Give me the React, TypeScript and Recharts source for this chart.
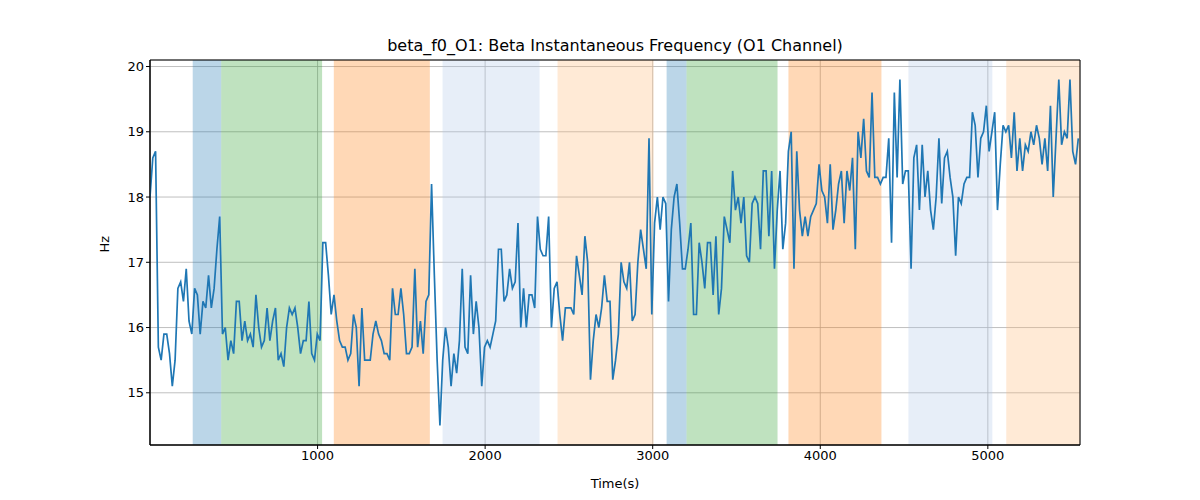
import { LineChart, Line, XAxis, YAxis, CartesianGrid, ReferenceArea } from 'recharts';

const X_MIN = 0;
const X_MAX = 5550;
const Y_MIN = 14.2;
const Y_MAX = 20.1;
const LAST_T = 5540;

const xTicks = [1000, 2000, 3000, 4000, 5000];
const yTicks = [15, 16, 17, 18, 19, 20];

// [start, end, color]
const bands: [number, number, string][] = [
  [255, 425, '#1f77b4'],
  [425, 1027, '#2ca02c'],
  [1097, 1670, '#ff7f0e'],
  [1746, 2325, '#aec7e8'],
  [2432, 3005, '#ffbb78'],
  [3083, 3202, '#1f77b4'],
  [3202, 3745, '#2ca02c'],
  [3810, 4365, '#ff7f0e'],
  [4526, 5027, '#aec7e8'],
  [5110, 5550, '#ffbb78'],
];

const values = [
  18.0, 18.6, 18.7, 15.7, 15.5, 15.9, 15.9, 15.6, 15.1, 15.5, 16.6, 16.7, 16.4, 16.9, 16.1, 15.9,
  16.6, 16.5, 15.9, 16.4, 16.3, 16.8, 16.3, 16.6, 17.2, 17.7, 15.9, 16.0, 15.5, 15.8, 15.6, 16.4,
  16.4, 15.8, 16.1, 15.8, 15.9, 15.7, 16.5, 16.0, 15.7, 15.8, 16.3, 15.8, 16.1, 16.3, 15.5, 15.6,
  15.4, 16.0, 16.3, 16.2, 16.3, 16.0, 15.6, 15.8, 15.8, 16.4, 15.6, 15.5, 15.9, 15.8, 17.3, 17.3,
  16.8, 16.2, 16.5, 16.1, 15.8, 15.7, 15.7, 15.5, 15.6, 16.2, 16.0, 15.1, 16.3, 15.5, 15.5, 15.5,
  15.9, 16.1, 15.9, 15.8, 15.6, 15.6, 15.5, 16.6, 16.2, 16.2, 16.6, 16.2, 15.6, 15.6, 15.7, 16.9,
  15.7, 16.1, 15.6, 16.4, 16.5, 18.2, 16.8, 15.5, 14.5, 15.5, 16.0, 15.7, 15.1, 15.6, 15.3, 15.8,
  16.9, 15.7, 15.6, 16.8, 15.9, 16.4, 16.0, 15.1, 15.7, 15.8, 15.7, 15.9, 16.1, 17.2, 17.2, 16.4,
  16.5, 16.9, 16.6, 16.7, 17.6, 16.0, 16.6, 16.0, 16.5, 16.5, 16.3, 17.7, 17.2, 17.1, 17.1, 17.7,
  16.0, 16.6, 16.7, 16.2, 15.8, 16.3, 16.3, 16.3, 16.2, 17.1, 16.8, 16.5, 17.4, 17.0, 15.2, 15.8,
  16.2, 16.0, 16.3, 16.8, 16.4, 16.4, 15.2, 15.5, 15.9, 17.0, 16.7, 16.6, 17.0, 16.1, 16.2, 17.0,
  17.5, 17.2, 16.9, 18.9, 16.2, 17.6, 18.0, 17.5, 18.0, 17.9, 16.4, 17.5, 18.0, 18.2, 17.6, 16.9,
  16.9, 17.2, 17.6, 16.2, 16.2, 17.3, 17.0, 16.6, 17.3, 17.3, 16.5, 17.4, 16.2, 16.6, 17.7, 17.5,
  17.3, 18.4, 17.8, 18.0, 17.6, 18.0, 17.1, 17.0, 17.9, 18.0, 17.9, 17.2, 18.4, 18.4, 17.4, 18.4,
  16.9, 17.8, 18.4, 17.2, 17.6, 18.7, 19.0, 16.9, 18.7, 17.8, 17.4, 17.7, 17.4, 17.7, 17.8, 17.9,
  18.5, 18.1, 18.0, 17.6, 18.5, 17.5, 17.8, 18.2, 18.4, 17.6, 18.4, 18.1, 18.6, 17.2, 19.0, 18.6,
  19.2, 18.4, 18.3, 19.6, 18.3, 18.3, 18.2, 18.3, 18.3, 18.9, 17.3, 19.6, 18.3, 19.8, 18.2, 18.4,
  18.4, 16.9, 18.6, 18.8, 17.8, 18.8, 18.0, 18.4, 17.8, 17.5, 18.0, 18.9, 17.9, 18.6, 18.7, 18.3,
  18.0, 17.1, 18.0, 17.9, 18.2, 18.3, 18.3, 19.3, 19.1, 18.3, 18.9, 19.0, 19.4, 18.7, 19.0, 19.3,
  17.8, 18.5, 19.1, 19.0, 19.1, 18.6, 19.3, 18.4, 18.9, 18.4, 18.8, 18.7, 19.0, 18.8, 19.1, 18.9,
  18.5, 18.9, 18.4, 19.4, 18.0, 18.9, 19.8, 18.8, 19.0, 18.9, 19.8, 18.7, 18.5, 18.9,
];

const step = LAST_T / (values.length - 1);
const data = values.map((v, i) => ({ t: i * step, hz: v }));

const font = 'DejaVu Sans, sans-serif';

export default function App() {
  return (
    <div style={{ position: 'relative', width: 1200, height: 500, margin: -8, background: '#fff', fontFamily: font }}>
      <div style={{ position: 'absolute', top: 36, left: 150, width: 930, textAlign: 'center', fontSize: 16, color: '#000' }}>
        beta_f0_O1: Beta Instantaneous Frequency (O1 Channel)
      </div>
      <LineChart width={1200} height={500} data={data} margin={{ top: 60, right: 120, bottom: 0, left: 0 }}>
        {bands.map(([a, b, c], i) => (
          <ReferenceArea key={i} x1={a} x2={b} y1={Y_MIN} y2={Y_MAX} fill={c} fillOpacity={0.3} stroke="none" ifOverflow="hidden" />
        ))}
        <CartesianGrid stroke="#b0b0b0" strokeWidth={0.8} />
        <XAxis
          dataKey="t"
          type="number"
          domain={[X_MIN, X_MAX]}
          ticks={xTicks}
          height={55}
          tick={{ fontSize: 13, fill: '#000', fontFamily: font }}
          tickLine={{ stroke: '#000' }}
          axisLine={{ stroke: '#000' }}
          tickSize={4}
          allowDataOverflow
          label={{ value: 'Time(s)', position: 'insideBottom', offset: 12, fontSize: 13, fill: '#000', fontFamily: font }}
        />
        <YAxis
          type="number"
          domain={[Y_MIN, Y_MAX]}
          ticks={yTicks}
          width={150}
          tick={{ fontSize: 13, fill: '#000', fontFamily: font }}
          tickLine={{ stroke: '#000' }}
          axisLine={{ stroke: '#000' }}
          tickSize={4}
          allowDataOverflow
          label={{ value: 'Hz', angle: -90, position: 'insideLeft', offset: 104, fontSize: 13, fill: '#000', fontFamily: font }}
        />
        <ReferenceArea x1={X_MIN} x2={X_MAX} y1={Y_MIN} y2={Y_MAX} fill="none" stroke="#000" strokeWidth={1} />
        <Line dataKey="hz" stroke="#1f77b4" strokeWidth={1.7} dot={false} isAnimationActive={false} />
      </LineChart>
    </div>
  );
}
